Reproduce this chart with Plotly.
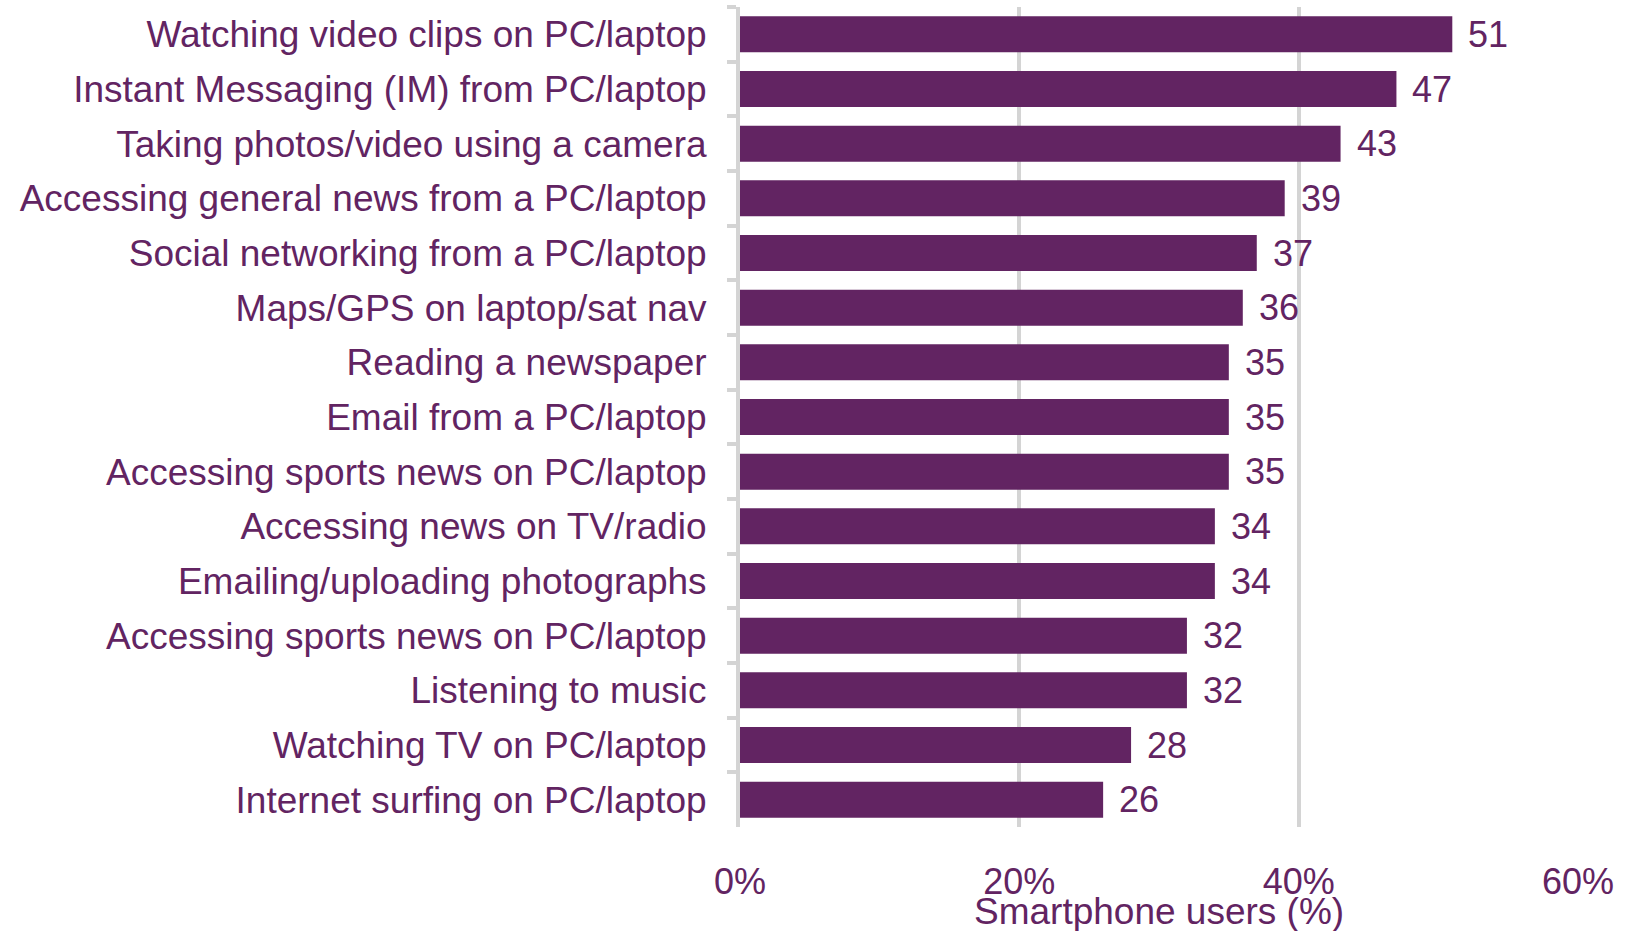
import plotly.graph_objects as go

# Activities (top to bottom) and share of smartphone users doing them on other devices
activities = [
    "Watching video clips on PC/laptop",
    "Instant Messaging (IM) from PC/laptop",
    "Taking photos/video using a camera",
    "Accessing general news from a PC/laptop",
    "Social networking from a PC/laptop",
    "Maps/GPS on laptop/sat nav",
    "Reading a newspaper",
    "Email from a PC/laptop",
    "Accessing sports news on PC/laptop",
    "Accessing news on TV/radio",
    "Emailing/uploading photographs",
    "Accessing sports news on PC/laptop",
    "Listening to music",
    "Watching TV on PC/laptop",
    "Internet surfing on PC/laptop",
]
share_pct = [51, 47, 43, 39, 37, 36, 35, 35, 35, 34, 34, 32, 32, 28, 26]

x_ticks = [0, 20, 40, 60]
x_tick_labels = ["0%", "20%", "40%", "60%"]
x_title = "Smartphone users (%)"

PURPLE = "#622462"
GRID = "#d4d4d4"
FONT = "Liberation Sans, Arial, sans-serif"

# Repeated labels need distinct category keys; a zero-width space keeps the text identical
seen = {}
cat_keys = []
for name in activities:
    n = seen.get(name, 0)
    cat_keys.append(name + "\u200b" * n)
    seen[name] = n + 1

fig = go.Figure(
    go.Bar(
        x=share_pct,
        y=cat_keys,
        orientation="h",
        marker=dict(color=PURPLE, line=dict(width=0)),
        hoverinfo="x+y",
    )
)

# Value labels just past the end of each bar
for key, v in zip(cat_keys, share_pct):
    fig.add_annotation(
        x=v, y=key, xref="x", yref="y",
        text=str(v), showarrow=False,
        xanchor="left", yanchor="middle", xshift=14,
        font=dict(family=FONT, size=36, color=PURPLE),
    )

# Axis title, centred under the plot area
fig.add_annotation(
    x=0.5, y=-0.103, xref="paper", yref="paper",
    text=x_title, showarrow=False,
    xanchor="center", yanchor="middle",
    font=dict(family=FONT, size=37, color=PURPLE),
)

fig.update_layout(
    width=1628,
    height=931,
    margin=dict(l=740, r=50, t=7, b=104),
    paper_bgcolor="white",
    plot_bgcolor="white",
    bargap=0.34,
    showlegend=False,
    font=dict(family=FONT, size=37, color=PURPLE),
)

fig.update_xaxes(
    range=[0, 60],
    tickmode="array",
    tickvals=x_ticks,
    ticktext=x_tick_labels,
    showgrid=True,
    gridcolor=GRID,
    gridwidth=4,
    zeroline=False,
    showline=False,
    ticks="",
    ticklabelstandoff=30,
    tickfont=dict(family=FONT, size=36, color=PURPLE),
    fixedrange=True,
)

fig.update_yaxes(
    type="category",
    categoryorder="array",
    categoryarray=cat_keys,
    autorange="reversed",
    showline=True,
    linecolor=GRID,
    linewidth=4,
    showgrid=False,
    ticks="outside",
    tickson="boundaries",
    ticklen=9,
    tickwidth=4,
    tickcolor=GRID,
    ticklabelstandoff=22,
    tickfont=dict(family=FONT, size=37, color=PURPLE),
    fixedrange=True,
)

fig.write_html("out.html")
